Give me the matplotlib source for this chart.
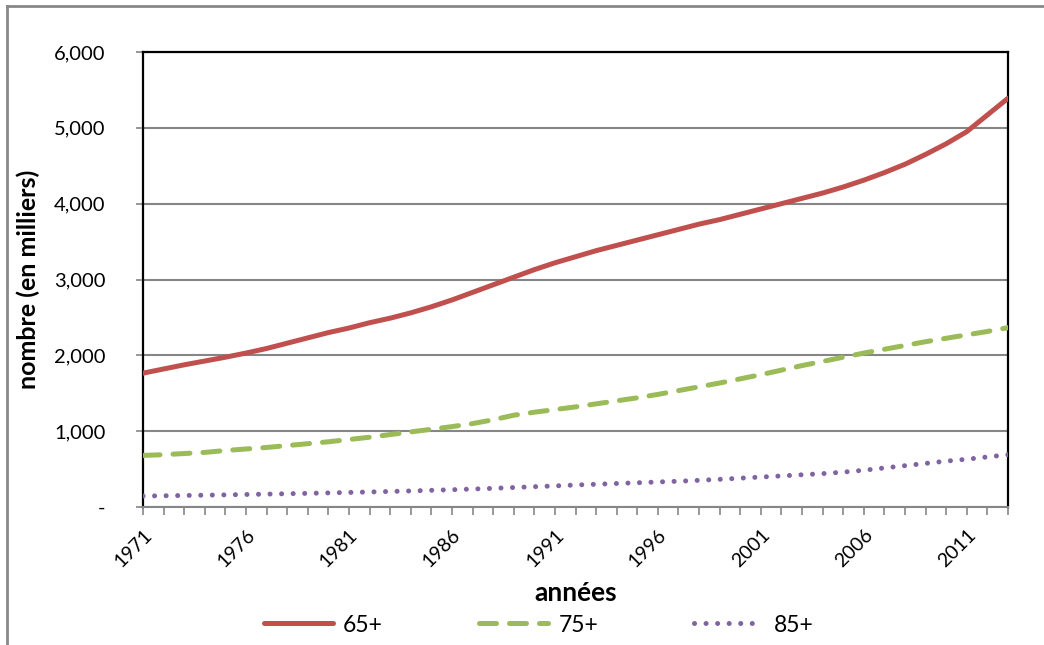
import matplotlib
matplotlib.use('Agg')
import matplotlib.pyplot as plt
from matplotlib.lines import Line2D
from matplotlib.ticker import FuncFormatter, MultipleLocator

years = list(range(1971, 2014))

pop_65 = [1765, 1820, 1875, 1925, 1975, 2030, 2090, 2160, 2230, 2300,
          2360, 2430, 2490, 2560, 2640, 2730, 2830, 2930, 3030, 3130,
          3220, 3300, 3380, 3450, 3520, 3590, 3660, 3730, 3790, 3860,
          3930, 4000, 4070, 4140, 4220, 4310, 4410, 4520, 4650, 4790,
          4950, 5170, 5390]

pop_75 = [680, 690, 705, 720, 745, 765, 785, 810, 835, 860,
          890, 920, 955, 990, 1025, 1060, 1100, 1150, 1210, 1250,
          1285, 1320, 1360, 1400, 1440, 1485, 1535, 1585, 1635, 1690,
          1745, 1805, 1865, 1920, 1975, 2030, 2080, 2130, 2180, 2225,
          2270, 2315, 2365]

pop_85 = [145, 148, 152, 156, 160, 165, 170, 175, 180, 186,
          192, 198, 205, 212, 220, 228, 237, 246, 257, 268,
          278, 290, 300, 310, 320, 330, 340, 352, 365, 380,
          395, 410, 425, 440, 460, 485, 515, 545, 575, 605,
          630, 660, 690]

labels = ['65+', '75+', '85+']
colors = ['#C0504D', '#9BBB59', '#8064A2']

plt.rcParams['font.family'] = ['Lato', 'DejaVu Sans']

fig = plt.figure(figsize=(10.44, 6.45), dpi=100)
ax = fig.add_axes([143/1044, 1 - 507/645, 865/1044, 455/645])

lw = 3.6
ax.plot(years, pop_65, color=colors[0], lw=lw, solid_capstyle='round', label=labels[0], zorder=4)
ax.plot(years, pop_75, color=colors[1], lw=lw, linestyle=(0, (3.4, 2.6)),
        dash_capstyle='round', label=labels[1], zorder=3)
ax.plot(years, pop_85, color=colors[2], lw=lw, linestyle=(0, (0.01, 2.3)),
        dash_capstyle='round', label=labels[2], zorder=3)

ax.set_xlim(1971, 2013)
ax.set_ylim(0, 6000)
ax.yaxis.set_major_locator(MultipleLocator(1000))
ax.yaxis.set_major_formatter(FuncFormatter(lambda v, p: '-' if v == 0 else '{:,.0f}'.format(v)))
ax.grid(axis='y', color='#868686', lw=1.5)
ax.set_axisbelow(True)

ax.set_xticks(years, minor=True)
ax.set_xticks(list(range(1971, 2012, 5)))
ax.set_xticklabels([str(y) for y in range(1971, 2012, 5)], rotation=45, ha='right',
                   rotation_mode='anchor', fontsize=14)
ax.tick_params(axis='x', which='both', length=6, width=1.2, color='#868686', pad=6)
ax.tick_params(axis='x', which='major', pad=8)
ax.tick_params(axis='y', length=5, width=1.2, color='#868686', labelsize=14.5, pad=22)

for s in ['top', 'left', 'right']:
    ax.spines[s].set_color('black')
    ax.spines[s].set_linewidth(1.6)
ax.spines['bottom'].set_color('#868686')
ax.spines['bottom'].set_linewidth(1.5)

ax.set_ylabel('nombre (en milliers)', fontsize=18, fontweight='bold', labelpad=10)
fig.text(0.551, 1 - 593/645, 'années', fontsize=19, fontweight='bold', ha='center', va='center')

leg = fig.legend(loc='center', bbox_to_anchor=(0.516, 1 - 625/645), ncol=3, frameon=False,
                 fontsize=16.5, handlelength=3.0, handletextpad=0.45, columnspacing=4.2)

# outer chart frame (top and left only visible)
fig.add_artist(Line2D([7/1044, 1.0], [1 - 6/645, 1 - 6/645], color='#888888', lw=2))
fig.add_artist(Line2D([7/1044, 7/1044], [0, 1 - 6/645], color='#888888', lw=2))

fig.savefig('out.png', dpi=100)
